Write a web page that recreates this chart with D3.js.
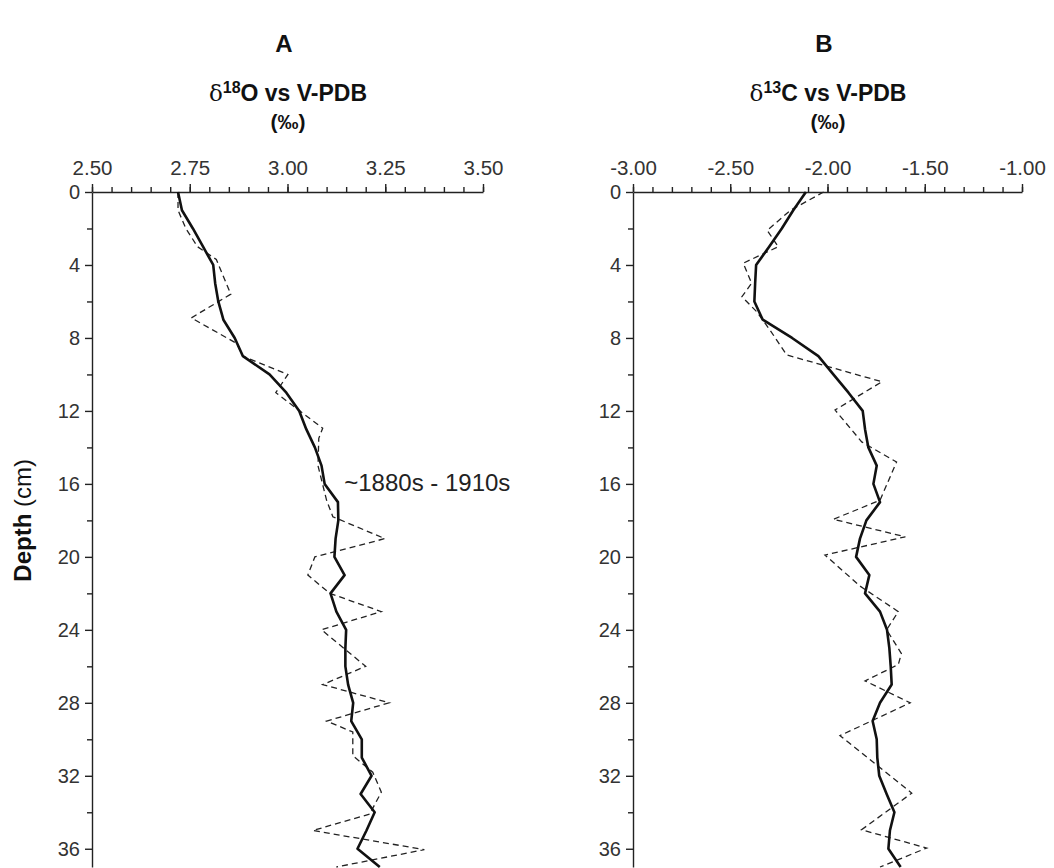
<!DOCTYPE html>
<html>
<head>
<meta charset="utf-8">
<script src="https://cdn.jsdelivr.net/npm/d3@7"></script>
<style>
  body { margin: 0; background: #fff; }
  svg { display: block; font-family: "Liberation Sans", Arial, sans-serif; }
  .tick text { fill: #333; }
</style>
</head>
<body>
<svg width="1054" height="868"></svg>
<script>
// depth samples (cm) of the smoothed record (solid line)
const depthSolid = d3.range(0, 38);

// A: d18O (per mil) - smoothed and raw
const o18Solid = [2.72, 2.73, 2.758, 2.784, 2.81, 2.815, 2.823, 2.836, 2.865, 2.886,
  2.954, 2.997, 3.03, 3.048, 3.07, 3.087, 3.095, 3.129, 3.13, 3.123,
  3.12, 3.146, 3.11, 3.125, 3.15, 3.148, 3.148, 3.155, 3.168, 3.163,
  3.19, 3.19, 3.215, 3.187, 3.223, 3.202, 3.179, 3.236];
const o18RawDepth = [0, 1, 2, 3, 3.7, 5.6, 6.9, 8.3, 9, 10, 11, 12.95, 13.5, 15, 16.9, 17.8,
  19, 20, 21, 22, 23, 24, 26, 27, 28, 29, 29.6, 30.9, 31.8, 32.9, 34.1, 35, 36.05, 37];
const o18Raw = [2.72, 2.72, 2.74, 2.77, 2.818, 2.855, 2.754, 2.87, 2.886, 3.001,
  2.97, 3.09, 3.08, 3.078, 3.10, 3.116, 3.249, 3.07, 3.052, 3.108,
  3.24, 3.087, 3.20, 3.09, 3.26, 3.10, 3.167, 3.167, 3.218, 3.24,
  3.21, 3.065, 3.35, 3.125];

// B: d13C (per mil)
const c13Solid = [-2.111, -2.176, -2.235, -2.30, -2.367, -2.372, -2.376, -2.333, -2.182, -2.047,
  -1.97, -1.892, -1.819, -1.807, -1.79, -1.747, -1.764, -1.73, -1.80, -1.833,
  -1.853, -1.785, -1.807, -1.73, -1.694, -1.682, -1.675, -1.67, -1.73, -1.768,
  -1.747, -1.744, -1.734, -1.696, -1.656, -1.679, -1.687, -1.624];
const c13RawDepth = [0, 1, 2.1, 3, 3.9, 5, 5.74, 6.56, 7.56, 8.93, 10.4, 11.95, 13.7, 14.8, 16.9,
  17.94, 18.9, 19.9, 21.6, 23, 24, 25.3, 25.9, 26.8, 28, 29.8, 32.95, 34.96, 35.96, 37];
const c13Raw = [-2.02, -2.19, -2.31, -2.253, -2.433, -2.39, -2.44, -2.364, -2.296, -2.21,
  -1.72, -1.961, -1.824, -1.645, -1.73, -1.97, -1.60, -2.013, -1.833, -1.636,
  -1.696, -1.62, -1.636, -1.807, -1.575, -1.936, -1.567, -1.825, -1.49, -1.73];

const majorDepth = d3.range(0, 37, 4);
const minorDepth = d3.range(2, 37, 4);

const svg = d3.select('svg');
const y = d3.scaleLinear().domain([0, 37]).range([192, 867]);
const fmt = d => d3.format('.2f')(d).replace('−', '-');

function panel(opts) {
  const g = svg.append('g');
  const x = d3.scaleLinear().domain(opts.domain).range(opts.range);

  // top axis: minor then major ticks
  g.append('g')
      .attr('transform', `translate(0,${y(0)})`)
      .call(d3.axisTop(x).tickValues(opts.minor).tickSize(5).tickFormat('').tickSizeOuter(0))
      .call(a => a.select('.domain').remove());
  g.append('g')
      .attr('transform', `translate(0,${y(0)})`)
      .call(d3.axisTop(x).tickValues(opts.major).tickSize(8).tickSizeOuter(0).tickFormat(fmt))
      .call(a => a.selectAll('text').attr('font-size', 20.5).attr('dy', '-0.3em'));

  // left axis
  g.append('g')
      .attr('transform', `translate(${opts.range[0]},0)`)
      .call(d3.axisLeft(y).tickValues(minorDepth).tickSize(5).tickFormat('').tickSizeOuter(0))
      .call(a => a.select('.domain').remove());
  g.append('g')
      .attr('transform', `translate(${opts.range[0]},0)`)
      .call(d3.axisLeft(y).tickValues(majorDepth).tickSize(7).tickSizeOuter(0).tickPadding(5))
      .call(a => a.selectAll('text').attr('font-size', 20));

  g.selectAll('.domain, .tick line').attr('stroke', '#222').attr('stroke-width', 1.4);

  const raw = opts.rawDepth.map((d, i) => [d, opts.raw[i]]);
  const smooth = depthSolid.map((d, i) => [d, opts.solid[i]]);
  const line = d3.line().x(d => x(d[1])).y(d => y(d[0]));

  g.append('path').datum(raw)
      .attr('d', line)
      .attr('fill', 'none')
      .attr('stroke', '#222')
      .attr('stroke-width', 1.3)
      .attr('stroke-dasharray', '6,4');
  g.append('path').datum(smooth)
      .attr('d', line)
      .attr('fill', 'none')
      .attr('stroke', '#111')
      .attr('stroke-width', 2.6)
      .attr('stroke-linejoin', 'round');

  const cx = opts.titleX;
  g.append('text')
      .attr('x', cx - 4).attr('y', 52)
      .attr('text-anchor', 'middle')
      .attr('font-size', 24).attr('font-weight', 'bold').attr('fill', '#111')
      .text(opts.letter);

  const t = g.append('text')
      .attr('x', cx).attr('y', 101)
      .attr('text-anchor', 'middle')
      .attr('font-size', 23).attr('font-weight', 'bold').attr('fill', '#111');
  t.append('tspan').attr('font-family', '"DejaVu Serif", serif').attr('font-weight', 'normal').text('δ');
  t.append('tspan').attr('font-size', 16).attr('dy', -8).text(opts.iso);
  t.append('tspan').attr('dy', 8).text(opts.elem + ' vs V-PDB');

  g.append('text')
      .attr('x', cx).attr('y', 129)
      .attr('text-anchor', 'middle')
      .attr('font-size', 21).attr('font-weight', 'bold').attr('fill', '#111')
      .text('(‰)');
  return x;
}

const xA = panel({
  domain: [2.5, 3.5], range: [92, 483],
  major: d3.range(2.5, 3.51, 0.25), minor: d3.range(2.5, 3.51, 0.05),
  solid: o18Solid, raw: o18Raw, rawDepth: o18RawDepth,
  letter: 'A', iso: '18', elem: 'O', titleX: 288
});

panel({
  domain: [-3, -1], range: [633, 1022],
  major: d3.range(-3, -0.99, 0.5), minor: d3.range(-3, -0.99, 0.1),
  solid: c13Solid, raw: c13Raw, rawDepth: c13RawDepth,
  letter: 'B', iso: '13', elem: 'C', titleX: 828
});

// y axis title
const yt = svg.append('text')
    .attr('transform', `translate(31,${y(18)}) rotate(-90)`)
    .attr('text-anchor', 'middle')
    .attr('font-size', 24).attr('fill', '#111');
yt.append('tspan').attr('font-weight', 'bold').text('Depth');
yt.append('tspan').text(' (cm)');

// annotation
svg.append('text')
    .attr('x', xA(3.14) + 2).attr('y', y(16.4))
    .attr('font-size', 24).attr('fill', '#222')
    .text('~1880s - 1910s');
</script>
</body>
</html>
